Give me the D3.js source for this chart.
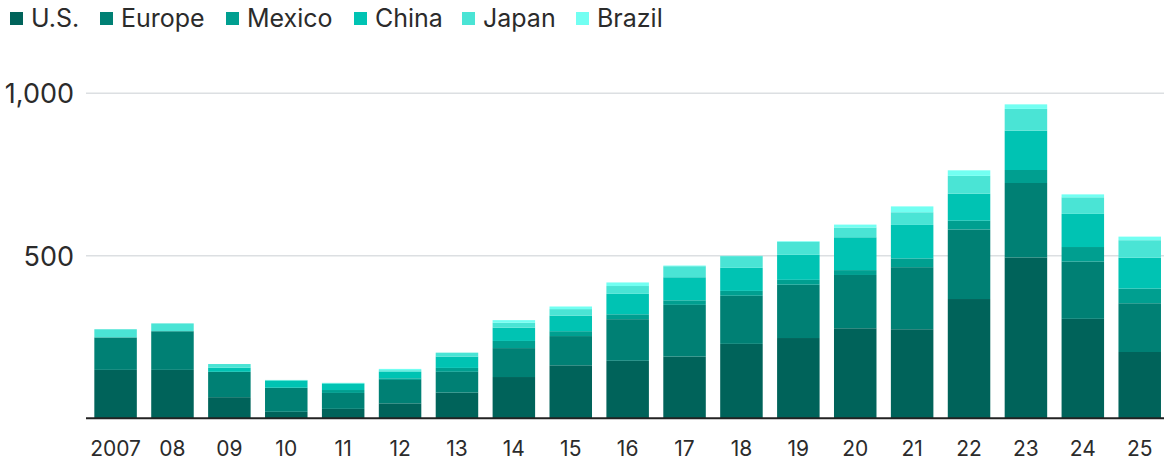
<!DOCTYPE html>
<html>
<head>
<meta charset="utf-8">
<script src="https://cdn.jsdelivr.net/npm/d3@7"></script>
<style>
  html, body { margin: 0; padding: 0; background: #fff; }
  svg { display: block; font-family: Inter, "Noto Sans", sans-serif; }
</style>
</head>
<body>
<svg id="chart" width="1164" height="463"></svg>
<script>
// Year labels along the x axis
const years = ["2007","08","09","10","11","12","13","14","15","16","17","18","19","20","21","22","23","24","25"];

// Values per region, one entry per year
const us     = [149,149,65,20,29,46,79,127,163,177,190,229,247,277,274,367,495,306,204];
const europe = [100,119,78,74,49,72,64,89,90,128,159,148,164,164,191,214,229,176,150];
const mexico = [0,0,0,0,9,5,12,22,15,15,14,15,15,15,27,27,40,45,45];
const china  = [0,0,13,22,19,20,35,41,48,63,71,71,77,101,103,83,121,102,95];
const japan  = [25,24,11,2,3,5,12,15,20,24,34,36,40,30,39,55,67,51,54];
const brazil = [0,0,0,0,0,4,0,8,8,11,2,1,2,9,18,17,14,9,11];

const seriesNames = ["U.S.","Europe","Mexico","China","Japan","Brazil"];
const seriesValues = [us, europe, mexico, china, japan, brazil];
const colors = ["#00635a","#008074","#009f90","#00c3b3","#4ae4d5","#72fff2"];

const yTicks = [500, 1000];

const svg = d3.select("#chart");

// Rows for the stack generator
const rows = years.map((y, i) => {
  const r = { year: y };
  seriesNames.forEach((n, k) => r[n] = seriesValues[k][i]);
  return r;
});
const stacked = d3.stack().keys(seriesNames)(rows);

const x = d3.scaleBand()
  .domain(years)
  .range([87.5, 1167.8])
  .paddingInner(0.253)
  .paddingOuter(0.12);

const y = d3.scaleLinear()
  .domain([0, 1000])
  .range([418.3, 93.3]);

const plotLeft = 86, plotRight = 1164;

// Horizontal gridlines
svg.append("g")
  .selectAll("line")
  .data(yTicks)
  .join("line")
  .attr("x1", plotLeft).attr("x2", plotRight)
  .attr("y1", d => y(d)).attr("y2", d => y(d))
  .attr("stroke", "#dcdfe2")
  .attr("stroke-width", 1.5);

// Y tick labels
svg.append("g")
  .selectAll("text")
  .data(yTicks)
  .join("text")
  .attr("x", 74)
  .attr("y", d => y(d))
  .attr("dy", "0.36em")
  .attr("text-anchor", "end")
  .attr("font-size", 27)
  .attr("fill", "#2b2b2b")
  .text(d => d3.format(",")(d));

// Stacked bars
svg.append("g")
  .selectAll("g")
  .data(stacked)
  .join("g")
  .attr("fill", (d, i) => colors[i])
  .selectAll("rect")
  .data(d => d)
  .join("rect")
  .attr("x", d => x(d.data.year))
  .attr("width", x.bandwidth())
  .attr("y", d => y(d[1]))
  .attr("height", d => Math.max(0, y(d[0]) - y(d[1])));

// Baseline
svg.append("line")
  .attr("x1", plotLeft).attr("x2", plotRight)
  .attr("y1", y(0)).attr("y2", y(0))
  .attr("stroke", "#222")
  .attr("stroke-width", 2);

// X axis labels
svg.append("g")
  .selectAll("text")
  .data(years)
  .join("text")
  .attr("x", d => x(d) + x.bandwidth() / 2)
  .attr("y", 456)
  .attr("text-anchor", "middle")
  .attr("font-size", 21)
  .attr("fill", "#2b2b2b")
  .text(d => d);

// Legend
const legendX = [10, 100, 226, 354, 462, 576];
const legend = svg.append("g")
  .selectAll("g")
  .data(seriesNames)
  .join("g")
  .attr("transform", (d, i) => `translate(${legendX[i]},0)`);
legend.append("rect")
  .attr("x", 0).attr("y", 12)
  .attr("width", 13).attr("height", 13)
  .attr("fill", (d, i) => colors[i]);
legend.append("text")
  .attr("x", 21).attr("y", 27)
  .attr("font-size", 25)
  .attr("fill", "#2b2b2b")
  .text(d => d);
</script>
</body>
</html>
